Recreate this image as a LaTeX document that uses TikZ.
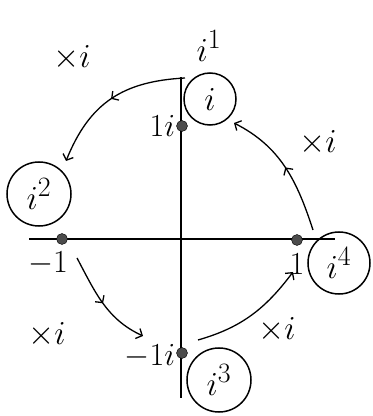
\documentclass[tikz,border=0pt]{standalone}
\usepackage{amsmath,amssymb}
\usetikzlibrary{calc,arrows.meta,decorations.markings}

\newcommand{\bigmath}[1]{\scalebox{1.35}{$#1$}}
\newcommand{\midmath}[1]{\scalebox{1.55}{$#1$}}

\tikzset{
  axis/.style={line width=1.2pt},
  dot/.style={circle, draw=black, fill=black!70, inner sep=0pt, minimum size=11pt},
  ring/.style={circle, draw, line width=1.5pt, inner sep=1pt, font=\Huge},
  lbl/.style={font=\huge, inner sep=1pt},
  big/.style={font=\Huge, inner sep=1pt},
  turn/.style={line width=1.3pt, -{Straight Barb[length=5pt,width=11pt]}},
  midarrow/.style={postaction={decorate}, decoration={markings,
      mark=at position 0.5 with {\arrow{Straight Barb[length=5pt,width=11pt]}}}}
}

\begin{document}
\begin{tikzpicture}[x=1pt, y=1pt]
    \useasboundingbox (0,0) rectangle (373,416);
    % axes
    \coordinate(XL)at(29,177);
    \coordinate(XR)at(335,177);
    \coordinate(YB)at(181,18);
    \coordinate(YT)at(181,339);
    \path[draw, axis](XL)to(XR);
    \path[draw, axis](YB)to(YT);
    % points
    \node[dot](mone)at(62,177){};
    \node[dot](pone)at(297,176){};
    \node[dot](pim)at(182,290){};
    \node[dot](mim)at(182,63){};
    % point labels
    \node[lbl, anchor=east](pimlab)at(pim.west){\midmath{1i}};
    \node[lbl, anchor=east](mimlab)at($(mim.west)+(0,-3)$){\midmath{-1i}};
    \node[lbl](monelab)at($(mone)+(-14,-24)$){\midmath{-1}};
    \node[lbl](ponelab)at($(pone)+(0,-24)$){\midmath{1}};
    % powers
    \node[big](itop)at(209,370){\bigmath{i^1}};
    \node[ring, minimum size=52pt](ringone)at(210,317){\bigmath{i}};
    \node[ring, minimum size=64pt](ringtwo)at(39,222){\bigmath{i^2}};
    \node[ring, minimum size=64pt](ringthree)at(219,36){\bigmath{i^3}};
    \node[ring, minimum size=62pt](ringfour)at(339,153){\bigmath{i^4}};
    % turns
    \coordinate(A1)at(185,338);
    \coordinate(B1)at(66,255);
    \path[draw, turn, midarrow](A1)to[out=183, in=68, looseness=1.1](B1);
    \coordinate(A2)at(77,158);
    \coordinate(B2)at(143,80);
    \path[draw, turn, midarrow](A2)to[out=-62, in=155](B2);
    \coordinate(A3)at(198,76);
    \coordinate(B3)at(293,144);
    \path[draw, turn](A3)to[out=16, in=-127](B3);
    \coordinate(A4)at(313,186);
    \coordinate(B4)at(234,293);
    \path[draw, turn, midarrow](A4)to[out=108, in=-27](B4);
    % times i
    \node[big](xa)at(72,358){\bigmath{\times i}};
    \node[big](xb)at(318,273){\bigmath{\times i}};
    \node[big](xc)at(47,81){\bigmath{\times i}};
    \node[big](xd)at(277,86){\bigmath{\times i}};
\end{tikzpicture}
\end{document}
